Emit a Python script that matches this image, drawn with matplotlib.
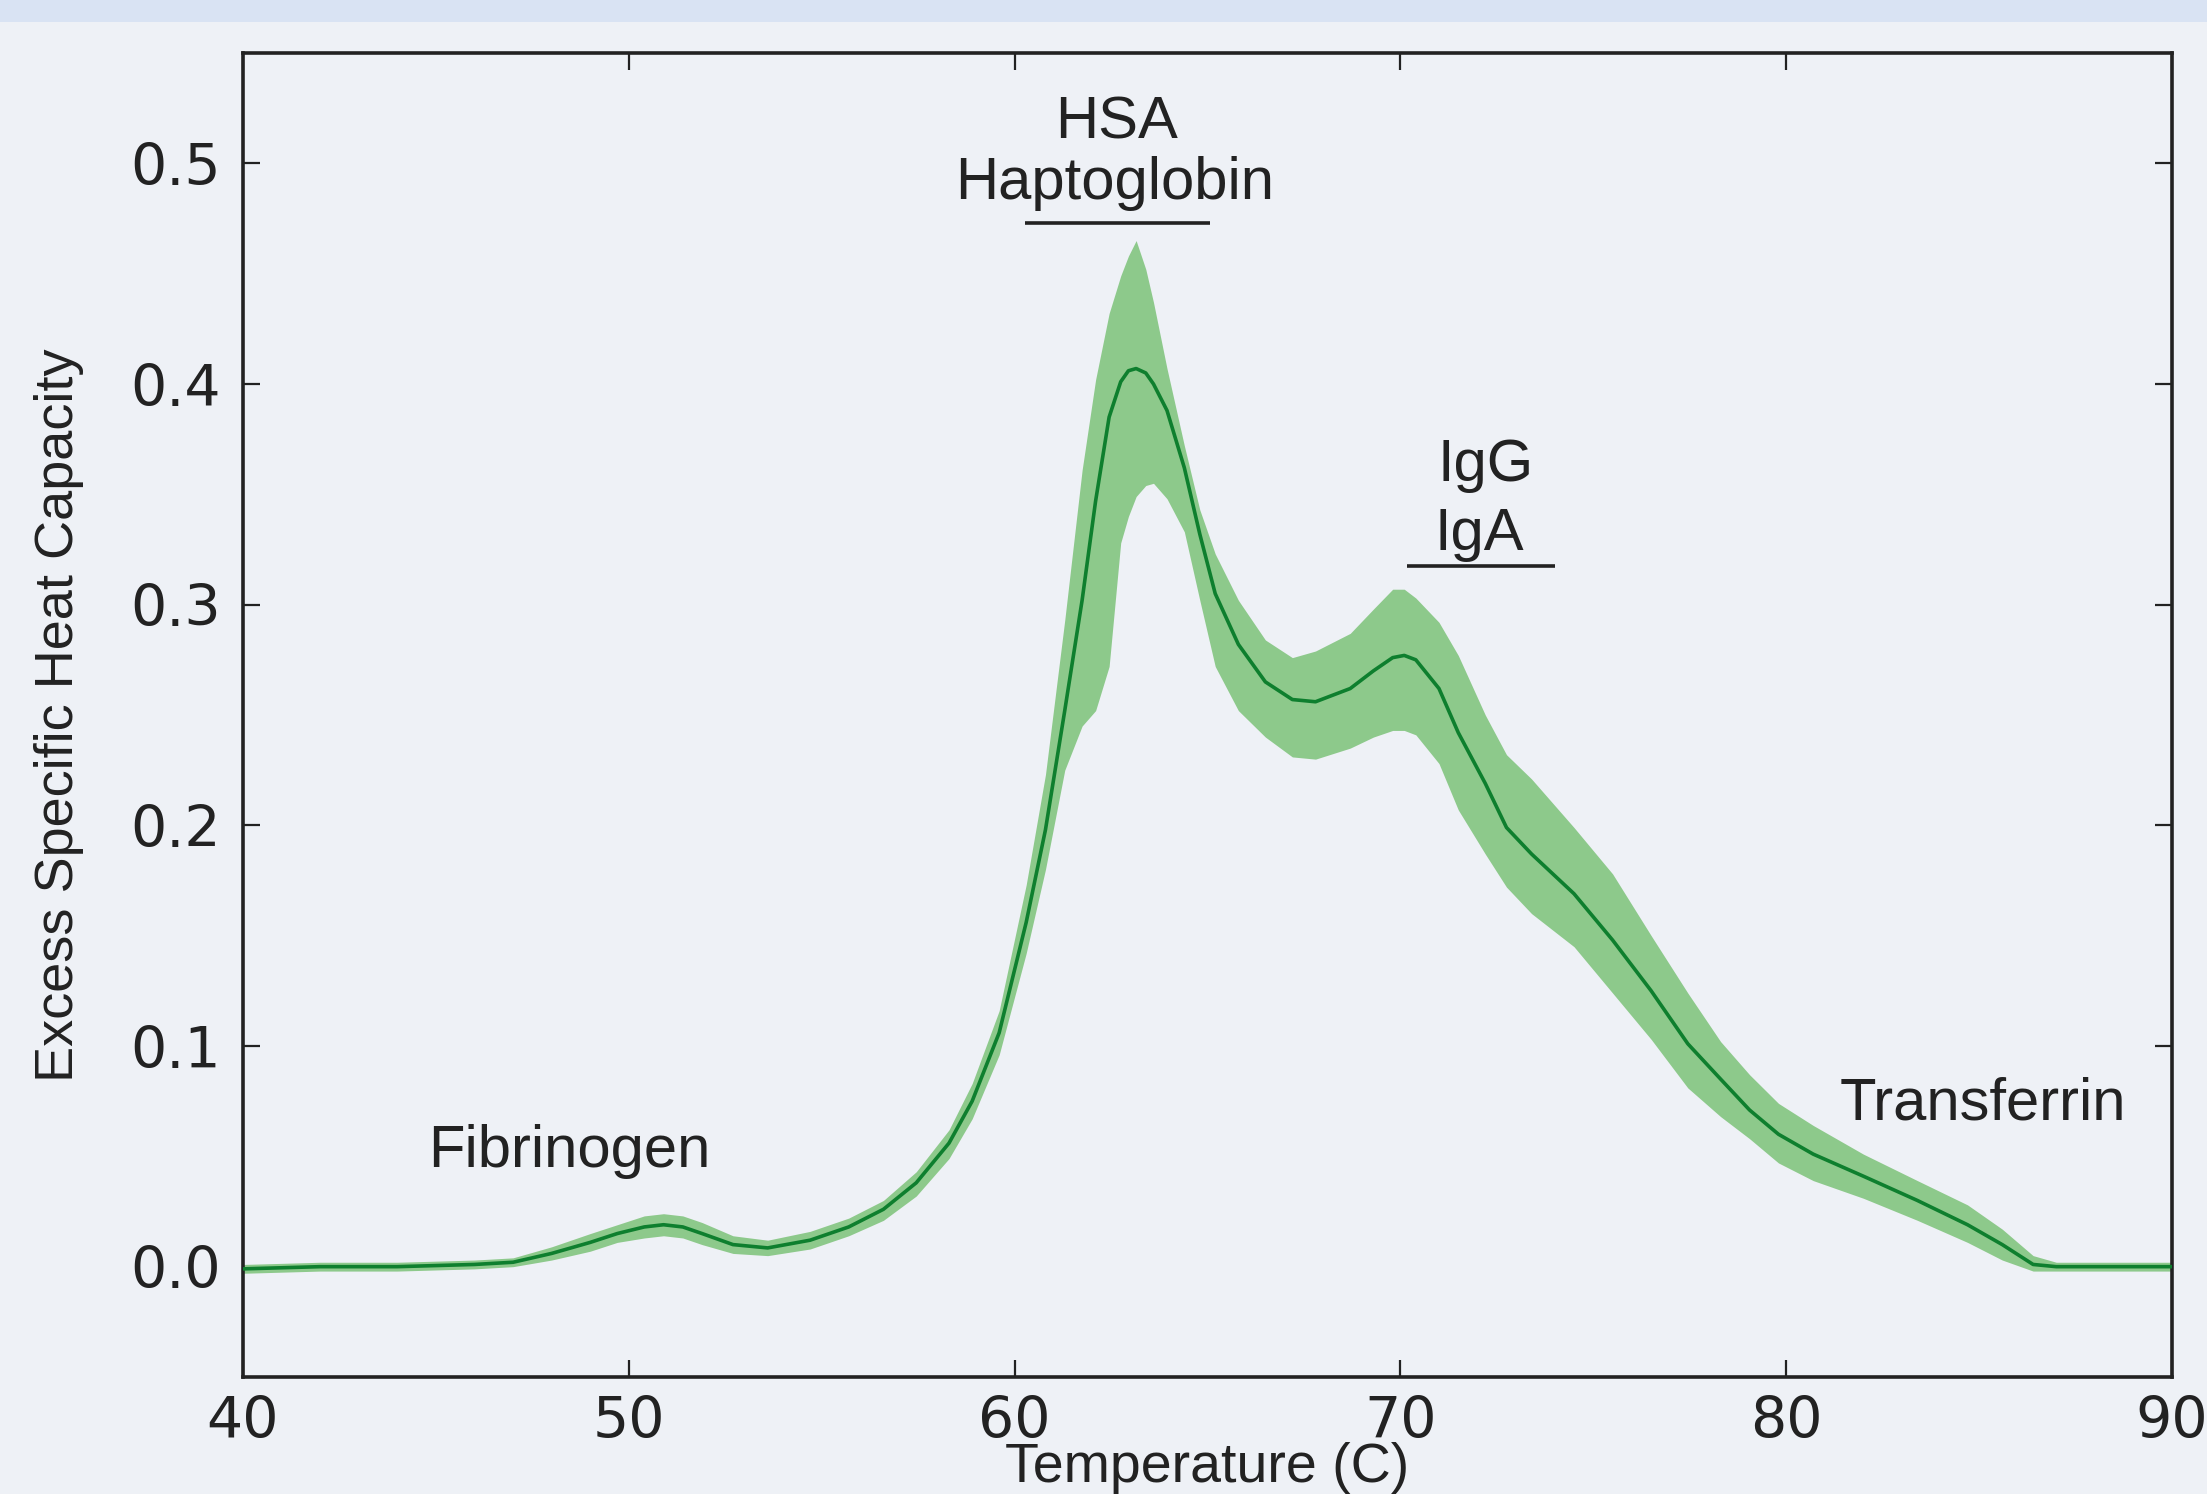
import numpy as np
import matplotlib
matplotlib.use("Agg")
import matplotlib.pyplot as plt
from matplotlib.patches import Rectangle

# temperature grid (C) and excess specific heat capacity
temp = [40.0, 42.0, 44.0, 46.0, 47.0,
        48.0, 49.0, 49.7, 50.4, 50.9,
        51.4, 51.9, 52.7, 53.6, 54.7,
        55.7, 56.6, 57.45, 58.3, 58.9,
        59.6, 60.3, 60.8, 61.3, 61.75,
        62.1, 62.45, 62.75, 62.95, 63.15,
        63.4, 63.6, 63.95, 64.4, 64.8,
        65.2, 65.8, 66.5, 67.2, 67.8,
        68.7, 69.3, 69.8, 70.1, 70.4,
        71.0, 71.5, 72.2, 72.75, 73.4,
        74.5, 75.5, 76.5, 77.45, 78.3,
        79.05, 79.8, 80.7, 82.0, 83.4,
        84.7, 85.6, 86.4, 87.0, 88.0,
        90.0]

cp_mean = [-0.001, 0.000, 0.000, 0.001, 0.002,
           0.006, 0.011, 0.015, 0.018, 0.019,
           0.018, 0.015, 0.010, 0.0085, 0.012,
           0.018, 0.026, 0.038, 0.056, 0.075,
           0.106, 0.156, 0.198, 0.252, 0.302,
           0.347, 0.385, 0.401, 0.406, 0.407,
           0.405, 0.400, 0.388, 0.362, 0.332,
           0.305, 0.282, 0.265, 0.257, 0.256,
           0.262, 0.270, 0.276, 0.277, 0.275,
           0.262, 0.242, 0.219, 0.199, 0.187,
           0.169, 0.148, 0.125, 0.101, 0.085,
           0.071, 0.060, 0.051, 0.041, 0.030,
           0.019, 0.010, 0.001, 0.000, 0.000,
           0.000]

cp_upper = [0.001, 0.002, 0.002, 0.003, 0.004,
            0.009, 0.015, 0.019, 0.023, 0.024,
            0.023, 0.020, 0.014, 0.012, 0.016,
            0.022, 0.030, 0.043, 0.062, 0.083,
            0.116, 0.173, 0.223, 0.293, 0.361,
            0.402, 0.432, 0.449, 0.458, 0.465,
            0.452, 0.437, 0.407, 0.372, 0.343,
            0.323, 0.302, 0.284, 0.276, 0.279,
            0.287, 0.298, 0.307, 0.307, 0.303,
            0.292, 0.277, 0.250, 0.232, 0.221,
            0.199, 0.178, 0.150, 0.124, 0.102,
            0.087, 0.074, 0.064, 0.051, 0.039,
            0.028, 0.017, 0.005, 0.002, 0.002,
            0.002]

cp_lower = [-0.003, -0.002, -0.002, -0.001, 0.000,
            0.003, 0.007, 0.011, 0.013, 0.014,
            0.013, 0.010, 0.006, 0.005, 0.008,
            0.014, 0.021, 0.032, 0.049, 0.067,
            0.096, 0.142, 0.180, 0.225, 0.245,
            0.252, 0.272, 0.328, 0.340, 0.349,
            0.354, 0.355, 0.348, 0.333, 0.302,
            0.272, 0.252, 0.240, 0.231, 0.230,
            0.235, 0.240, 0.243, 0.243, 0.241,
            0.228, 0.207, 0.187, 0.172, 0.160,
            0.145, 0.124, 0.103, 0.081, 0.068,
            0.058, 0.047, 0.039, 0.031, 0.021,
            0.011, 0.003, -0.002, -0.002, -0.002,
            -0.002]

# peak labels: text, x, y (baseline)
peak_labels = ["HSA", "Haptoglobin", "IgG", "IgA", "Fibrinogen", "Transferrin"]
label_x = [62.65, 62.6, 72.2, 72.05, 48.46, 85.1]
label_y = [0.5113, 0.484, 0.356, 0.325, 0.0452, 0.0669]

# underline bars below the stacked labels: x start, x end, y
bar_x0 = [60.27, 70.17]
bar_x1 = [65.07, 74.0]
bar_y = [0.473, 0.3176]

xticks = [40, 50, 60, 70, 80, 90]
yticks = [0.0, 0.1, 0.2, 0.3, 0.4, 0.5]

bg = "#eef1f6"
ink = "#222222"

fig = plt.figure(figsize=(22.07, 14.94), dpi=100, facecolor=bg)
fig.add_artist(Rectangle((0, 1 - 22 / 1494), 1, 22 / 1494, transform=fig.transFigure,
                         facecolor="#d9e3f3", edgecolor="none"))
ax = fig.add_axes([243 / 2207, 1 - 1377 / 1494, 1929 / 2207, 1324 / 1494])
ax.set_facecolor(bg)

ax.fill_between(temp, cp_lower, cp_upper, color="#8dc98b", linewidth=0, zorder=2)
ax.plot(temp, cp_mean, color="#0e7f2e", linewidth=2.6, solid_joinstyle="round", zorder=3)

ax.set_xlim(40, 90)
ax.set_ylim(-0.05, 0.55)
ax.set_xticks(xticks)
ax.set_yticks(yticks)
ax.set_xticklabels([str(t) for t in xticks])
ax.set_yticklabels(["%.1f" % t for t in yticks])

for s in ax.spines.values():
    s.set_linewidth(2.6)
    s.set_color(ink)
ax.tick_params(direction="in", length=12, width=1.6, color=ink,
               top=True, right=True, labelsize=41, labelcolor=ink)
ax.tick_params(axis="x", pad=13)
ax.tick_params(axis="y", pad=16)
for lab in ax.get_xticklabels() + ax.get_yticklabels():
    lab.set_family("DejaVu Sans")

ax.set_xlabel("Temperature (C)", fontsize=40, family="Liberation Sans", color=ink)
ax.xaxis.label.set_va("baseline")
ax.xaxis.set_label_coords(0.5, -0.0795)
ax.set_ylabel("Excess Specific Heat Capacity", fontsize=39, family="Liberation Sans", color=ink)
ax.yaxis.label.set_va("center")
ax.yaxis.set_label_coords(-0.0954, 0.5)

for txt, x, y in zip(peak_labels, label_x, label_y):
    ax.text(x, y, txt, ha="center", va="baseline", fontsize=43,
            family="Liberation Sans", color=ink, zorder=4)
for x0, x1, y in zip(bar_x0, bar_x1, bar_y):
    ax.plot([x0, x1], [y, y], color=ink, linewidth=2.6, solid_capstyle="butt", zorder=4)

fig.savefig("out.png", dpi=100, facecolor=bg)
